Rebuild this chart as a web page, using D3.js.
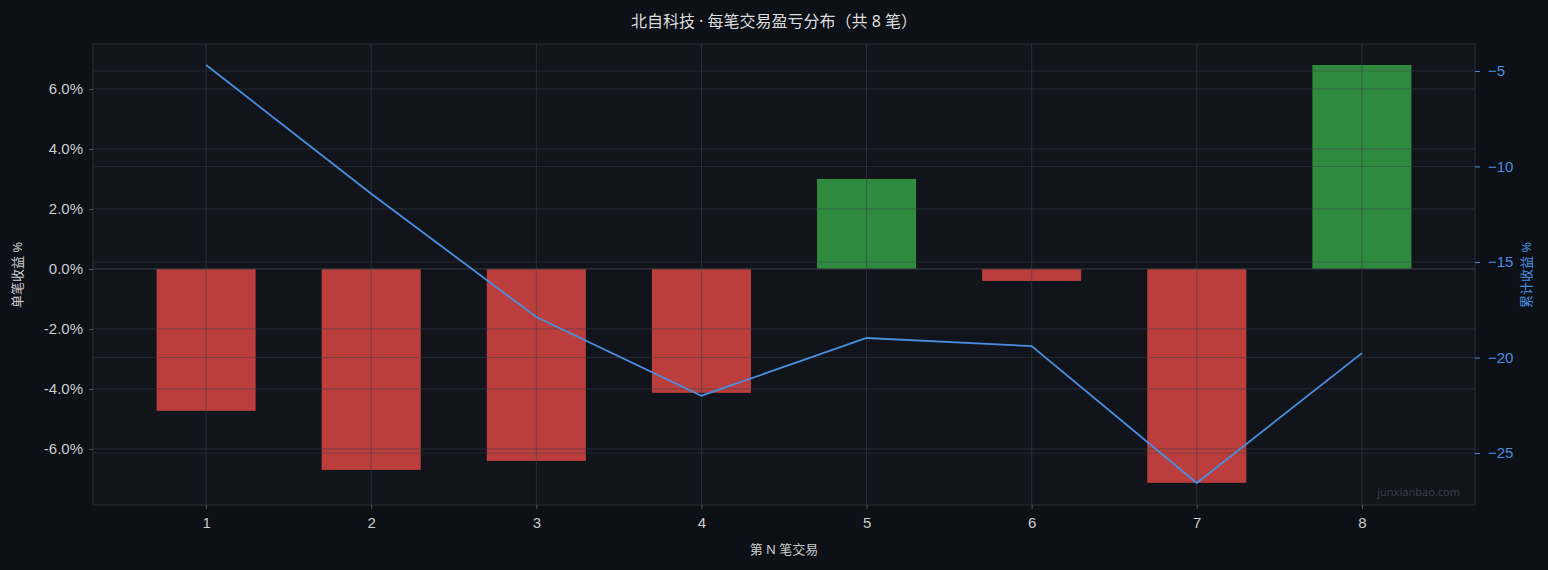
<!DOCTYPE html>
<html><head><meta charset="utf-8">
<script src="https://cdn.jsdelivr.net/npm/d3@7"></script>
<style>
body{margin:0;background:#0d1017;}
svg{display:block;font-family:"Noto Sans","Noto Sans CJK SC",sans-serif;}
</style></head>
<body><svg id="chart" width="1548" height="570"></svg>
<script>
// trade numbers, per-trade return %, cumulative return %
const trades = [1, 2, 3, 4, 5, 6, 7, 8];
const tradePct = [-4.73, -6.7, -6.4, -4.13, 3.0, -0.4, -7.13, 6.8];
const cumPct = [-4.69, -11.43, -17.88, -22.0, -18.98, -19.4, -26.57, -19.77];
const leftTicks = [-6, -4, -2, 0, 2, 4, 6];
const rightTicks = [-25, -20, -15, -10, -5];

const svg = d3.select("#chart");
const m = {l: 93, r: 1475, t: 44, b: 505};
const grid = "#262a33";

const x = d3.scaleLinear().domain([0.315, 8.685]).range([m.l, m.r]);
const y = d3.scaleLinear().domain([-7.87, 7.5]).range([m.b, m.t]);
const y2 = d3.scaleLinear().domain([-27.72, -3.59]).range([m.b, m.t]);

svg.append("rect").attr("x", m.l).attr("y", m.t).attr("width", m.r - m.l).attr("height", m.b - m.t)
  .attr("fill", "#11141b").attr("stroke", "#2a2e37");

// bars first, grid drawn over them
const bw = x(1.3) - x(0.7);
svg.selectAll("rect.bar").data(trades).join("rect").attr("class", "bar")
  .attr("x", d => x(d) - bw / 2)
  .attr("width", bw)
  .attr("y", (d, i) => y(Math.max(0, tradePct[i])))
  .attr("height", (d, i) => Math.abs(y(tradePct[i]) - y(0)))
  .attr("fill", (d, i) => tradePct[i] >= 0 ? "#2e8b3e" : "#bb3e3c");

const gl = svg.append("g").attr("stroke-width", 1);
leftTicks.forEach(t => gl.append("line").attr("x1", m.l).attr("x2", m.r).attr("y1", y(t)).attr("y2", y(t))
  .attr("stroke", t === 0 ? "#3a3e47" : "rgba(60,64,75,0.55)"));
rightTicks.forEach(t => gl.append("line").attr("x1", m.l).attr("x2", m.r).attr("y1", y2(t)).attr("y2", y2(t))
  .attr("stroke", "rgba(60,64,75,0.45)"));
trades.forEach(t => gl.append("line").attr("y1", m.t).attr("y2", m.b).attr("x1", x(t)).attr("x2", x(t))
  .attr("stroke", "rgba(60,64,75,0.6)"));

// cumulative line
svg.append("path").datum(trades)
  .attr("d", d3.line().x(d => x(d)).y((d, i) => y2(cumPct[i])))
  .attr("fill", "none").attr("stroke", "#4a8fdf").attr("stroke-width", 1.8);

// axes
function style(g, c) {
  g.select(".domain").remove();
  g.selectAll("line").attr("stroke", c === "#ccc" ? "#555" : c);
  g.selectAll("text").attr("fill", c).attr("font-size", 15);
}
svg.append("g").attr("transform", `translate(${m.l},0)`)
  .call(d3.axisLeft(y).tickValues(leftTicks).tickFormat(d => d.toFixed(1) + "%").tickSize(4).tickPadding(6))
  .call(g => style(g, "#ccc"));
svg.append("g").attr("transform", `translate(${m.r},0)`)
  .call(d3.axisRight(y2).tickValues(rightTicks).tickSize(5).tickPadding(8))
  .call(g => style(g, "#4a8fdf"));
svg.append("g").attr("transform", `translate(0,${m.b})`)
  .call(d3.axisBottom(x).tickValues(trades).tickFormat(d3.format("d")).tickSize(4).tickPadding(8))
  .call(g => style(g, "#ccc"));

svg.append("text").attr("x", 774).attr("y", 27).attr("text-anchor", "middle")
  .attr("fill", "#ddd").attr("font-size", 16).text("北自科技 · 每笔交易盈亏分布（共 8 笔）");
svg.append("text").attr("x", 784).attr("y", 554).attr("text-anchor", "middle")
  .attr("fill", "#ccc").attr("font-size", 13).text("第 N 笔交易");
svg.append("text").attr("transform", "translate(22,275) rotate(-90)").attr("text-anchor", "middle")
  .attr("fill", "#ccc").attr("font-size", 13).text("单笔收益 %");
svg.append("text").attr("transform", "translate(1531,275) rotate(-90)").attr("text-anchor", "middle")
  .attr("fill", "#4a8fdf").attr("font-size", 13).text("累计收益 %");
svg.append("text").attr("x", 1460).attr("y", 496).attr("text-anchor", "end")
  .attr("fill", "#3a3e47").attr("font-size", 11).text("junxianbao.com");
</script></body></html>
